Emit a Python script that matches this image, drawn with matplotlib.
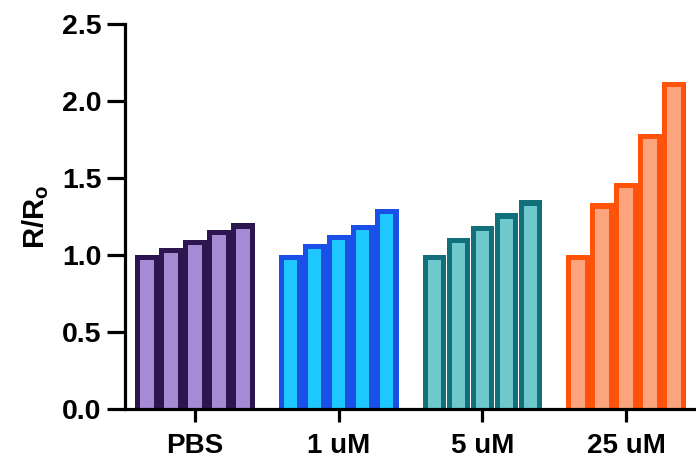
import matplotlib
matplotlib.use("Agg")
import matplotlib.pyplot as plt
import numpy as np

plt.rcParams['font.family'] = ['Liberation Sans', 'DejaVu Sans']
plt.rcParams['font.weight'] = 'bold'
plt.rcParams['mathtext.fontset'] = 'custom'
plt.rcParams['mathtext.rm'] = 'Liberation Sans:bold'

groups = ["PBS", "1 uM", "5 uM", "25 uM"]
pbs = [1.0, 1.045, 1.10, 1.165, 1.205]
um1 = [1.0, 1.07, 1.13, 1.195, 1.30]
um5 = [1.0, 1.11, 1.19, 1.27, 1.355]
um25 = [1.0, 1.335, 1.47, 1.785, 2.125]

edge_colors = ["#2C1650", "#1A4FE8", "#12707A", "#FF520A"]
fill_colors = ["#A68AD3", "#1EC8FF", "#6FC8CC", "#FBA47E"]

values = [pbs, um1, um5, um25]

fig = plt.figure(figsize=(6.96, 4.58), dpi=100)
ax = fig.add_axes([125 / 696, 49 / 458, 571 / 696, 385 / 458])
ax.set_xlim(-0.487, 3.486)
ax.set_ylim(0, 2.5)

# border thickness (pixels) -> data units, border drawn inside the bar
border_px = 5.2
bbox = ax.get_window_extent()
dx = border_px * (3.486 + 0.487) / bbox.width
dy = border_px * 2.5 / bbox.height

pitch = 0.167
width = 0.165
for i, vals in enumerate(values):
    n = len(vals)
    xs = i + (np.arange(n) - (n - 1) / 2) * pitch
    vals = np.array(vals)
    ax.bar(xs, vals, width=width, color=edge_colors[i], linewidth=0)
    ax.bar(xs, vals - dy, width=width - 2 * dx, color=fill_colors[i], linewidth=0)

ax.set_yticks([0, 0.5, 1.0, 1.5, 2.0, 2.5])
ax.set_yticklabels(["0.0", "0.5", "1.0", "1.5", "2.0", "2.5"])
ax.set_xticks(range(len(groups)))
ax.set_xticklabels(groups)

for s in ["top", "right"]:
    ax.spines[s].set_visible(False)
for s in ["left", "bottom"]:
    ax.spines[s].set_linewidth(2.3)
    ax.spines[s].set_capstyle("projecting")
    ax.spines[s].set_zorder(5)

ax.tick_params(axis="y", length=13, width=2.3, labelsize=20.5, pad=4)
ax.tick_params(axis="x", length=9, width=2.3, labelsize=20, pad=8)
for lab in ax.get_xticklabels() + ax.get_yticklabels():
    lab.set_fontweight("bold")

ax.set_ylabel(r"R/R$_\mathregular{o}$", fontsize=21, fontweight="bold", labelpad=8)

fig.savefig("out.png", dpi=100)
